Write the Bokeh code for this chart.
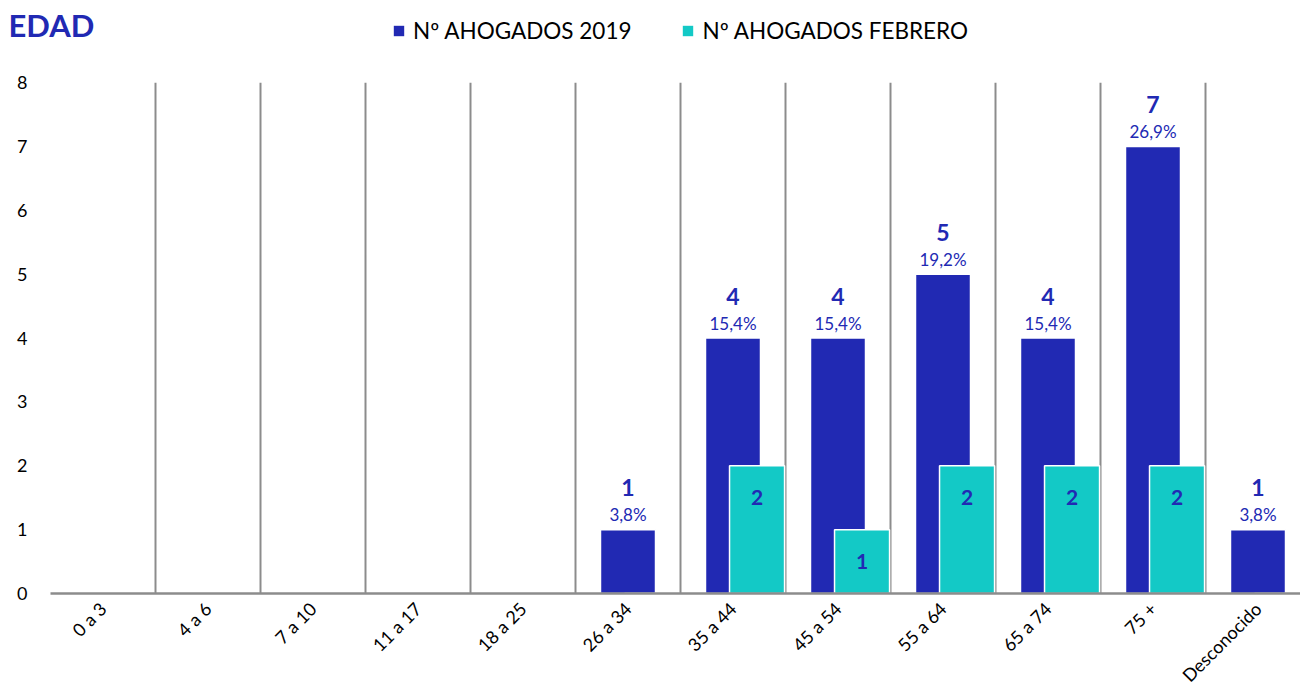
import math
from bokeh.plotting import figure
from bokeh.layouts import column
from bokeh.models import ColumnDataSource, FixedTicker, LabelSet
from bokeh.core.properties import value
from bokeh.embed import file_html
from bokeh.resources import INLINE

# ---- data ----
categories = ["0 a 3", "4 a 6", "7 a 10", "11 a 17", "18 a 25", "26 a 34",
              "35 a 44", "45 a 54", "55 a 64", "65 a 74", "75 +", "Desconocido"]
ahogados_2019 = [0, 0, 0, 0, 0, 1, 4, 4, 5, 4, 7, 1]
ahogados_febrero = [0, 0, 0, 0, 0, 0, 2, 1, 2, 2, 2, 0]
series_names = ["Nº AHOGADOS 2019", "Nº AHOGADOS FEBRERO"]
y_ticks = [0, 1, 2, 3, 4, 5, 6, 7, 8]
title_text = "EDAD"

# ---- style ----
BLUE = "#2129B3"
TEAL = "#13C9C6"
GRID = "#8C8C8C"
FONT = "Lato"
W = 1300
TOP_H = 70
MAIN_H = 627
LEFT = 50
CAT_PX = 105.0
BAR_W = 0.524
TEAL_SHIFT = 0.229

n = len(categories)
centers = [i + 0.5 for i in range(n)]
total = sum(ahogados_2019)

src_blue = ColumnDataSource(dict(x=centers, top=ahogados_2019))
src_teal = ColumnDataSource(dict(x=[c + TEAL_SHIFT for c in centers], top=ahogados_febrero))

# ---------- header figure (title + legend) ----------
head = figure(width=W, height=TOP_H, x_range=(0, W), y_range=(0, TOP_H),
              output_backend="svg", toolbar_location=None,
              x_axis_location=None, y_axis_location=None,
              min_border=0, min_border_left=0, min_border_right=0,
              min_border_top=0, min_border_bottom=0)
head.frame_align = False
head.grid.visible = False
head.outline_line_color = None
head.text(x=[8], y=[TOP_H - 24], text=[title_text], text_font=value(FONT),
          text_font_style="bold", text_font_size="31px", text_color=BLUE,
          text_baseline="middle", text_align="left")
r1 = head.vbar(x="x", top="top", width=0.5, source=src_blue,
               fill_color=BLUE, line_color=None, legend_label=series_names[0])
r2 = head.vbar(x="x", top="top", width=0.5, source=src_teal,
               fill_color=TEAL, line_color=None, legend_label=series_names[1])
r1.visible = False
r2.visible = False
lg = head.legend[0]
lg.orientation = "horizontal"
lg.location = (392, TOP_H - 44)
lg.border_line_color = None
lg.background_fill_alpha = 0
lg.inactive_fill_alpha = 0
lg.padding = 0
lg.margin = 0
lg.spacing = 50
lg.glyph_width = 13
lg.glyph_height = 13
lg.label_standoff = 8
lg.label_text_font = FONT
lg.label_text_font_size = "22.5px"
lg.label_text_color = "black"

# ---------- main chart ----------
lab_blue = dict(x=[], y=[], count=[], pct=[])
for c, v in zip(centers, ahogados_2019):
    if v > 0:
        lab_blue["x"].append(c)
        lab_blue["y"].append(v)
        lab_blue["count"].append(str(v))
        lab_blue["pct"].append(f"{v / total * 100:.1f}".replace(".", ",") + "%")
lab_teal = dict(x=[], y=[], count=[])
for c, v in zip(centers, ahogados_febrero):
    if v > 0:
        lab_teal["x"].append(c + TEAL_SHIFT)
        lab_teal["y"].append(v)
        lab_teal["count"].append(str(v))
src_lab_blue = ColumnDataSource(lab_blue)
src_lab_teal = ColumnDataSource(lab_teal)

p = figure(width=W, height=MAIN_H,
           x_range=(0, (W - LEFT) / CAT_PX), y_range=(0, 8),
           output_backend="svg", toolbar_location=None,
           min_border_left=LEFT, min_border_right=0,
           min_border_top=12, min_border_bottom=104)
p.frame_align = False
p.outline_line_color = None

p.vbar(x="x", top="top", width=BAR_W, source=src_blue, fill_color=BLUE,
       line_color="white", line_width=1.5)
p.vbar(x="x", top="top", width=BAR_W, source=src_teal, fill_color=TEAL,
       line_color="white", line_width=1.5)

p.add_layout(LabelSet(x="x", y="y", text="count", source=src_lab_blue,
                      y_offset=42, text_align="center", text_baseline="middle",
                      text_font=value(FONT), text_font_style="bold",
                      text_font_size="23px", text_color=BLUE))
p.add_layout(LabelSet(x="x", y="y", text="pct", source=src_lab_blue,
                      y_offset=15, text_align="center", text_baseline="middle",
                      text_font=value(FONT), text_font_size="17px", text_color=BLUE))
p.add_layout(LabelSet(x="x", y="y", text="count", source=src_lab_teal,
                      y_offset=-32, text_align="center", text_baseline="middle",
                      text_font=value(FONT), text_font_style="bold",
                      text_font_size="21px", text_color=BLUE))

p.xaxis.ticker = FixedTicker(ticks=centers)
p.xaxis.major_label_overrides = {c: cat for c, cat in zip(centers, categories)}
p.xaxis.major_label_orientation = math.pi / 4
p.xaxis.axis_line_color = GRID
p.xaxis.axis_line_width = 2.5
p.xaxis.major_tick_line_color = None
p.xaxis.minor_tick_line_color = None
p.xaxis.major_label_text_font = FONT
p.xaxis.major_label_text_font_size = "18px"
p.xaxis.major_label_text_color = "black"
p.xaxis.major_label_standoff = 6

p.yaxis.ticker = FixedTicker(ticks=y_ticks)
p.yaxis.axis_line_color = None
p.yaxis.major_tick_line_color = None
p.yaxis.minor_tick_line_color = None
p.yaxis.major_label_text_font = FONT
p.yaxis.major_label_text_font_size = "18px"
p.yaxis.major_label_text_color = "black"
p.yaxis.major_label_standoff = 17

p.ygrid.grid_line_color = None
p.xgrid.ticker = FixedTicker(ticks=list(range(0, n + 1)))
p.xgrid.grid_line_color = GRID
p.xgrid.grid_line_width = 2

layout = column(head, p, spacing=0)
open("out.html", "w").write(file_html(layout, INLINE))
